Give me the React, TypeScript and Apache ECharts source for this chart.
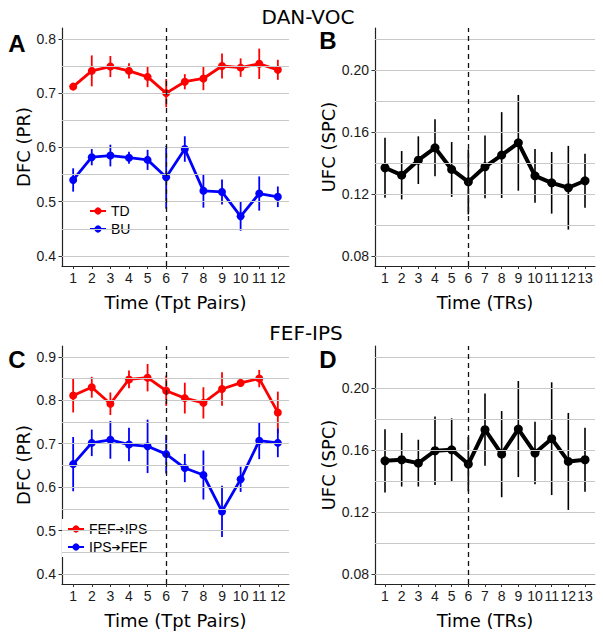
import React, { useEffect, useRef } from "react";
import * as echarts from "echarts";

// ---------- data ----------
const tptPairs = [1, 2, 3, 4, 5, 6, 7, 8, 9, 10, 11, 12];
const trs = [1, 2, 3, 4, 5, 6, 7, 8, 9, 10, 11, 12, 13];

// Panel A: DAN-VOC DFC
const tdMean = [0.712, 0.741, 0.749, 0.741, 0.730, 0.700, 0.721, 0.727, 0.750, 0.747, 0.754, 0.743];
const tdErr = [0.006, 0.0285, 0.0195, 0.014, 0.019, 0.026, 0.014, 0.0215, 0.023, 0.017, 0.028, 0.0185];
const buMean = [0.540, 0.582, 0.585, 0.581, 0.577, 0.545, 0.597, 0.520, 0.518, 0.473, 0.515, 0.509];
const buErr = [0.0215, 0.015, 0.020, 0.011, 0.0185, 0.058, 0.0235, 0.031, 0.023, 0.0265, 0.0315, 0.019];

// Panel B: DAN-VOC UFC
const ufcDanMean = [0.1369, 0.1321, 0.1418, 0.1498, 0.1358, 0.1278, 0.1375, 0.1451, 0.153, 0.1317, 0.1272, 0.124, 0.1285];
const ufcDanErr = [0.0194, 0.0156, 0.0154, 0.0184, 0.0177, 0.021, 0.0202, 0.0277, 0.0309, 0.0173, 0.0199, 0.027, 0.0174];

// Panel C: FEF-IPS DFC
const fefIpsMean = [0.811, 0.830, 0.792, 0.848, 0.852, 0.822, 0.805, 0.794, 0.826, 0.840, 0.850, 0.772];
const fefIpsErr = [0.039, 0.024, 0.026, 0.0205, 0.0315, 0.035, 0.0355, 0.036, 0.0385, 0.008, 0.02, 0.048];
const ipsFefMean = [0.653, 0.702, 0.709, 0.698, 0.694, 0.676, 0.644, 0.628, 0.544, 0.618, 0.707, 0.702];
const ipsFefErr = [0.0625, 0.0305, 0.0435, 0.0385, 0.0615, 0.0445, 0.0325, 0.0565, 0.059, 0.029, 0.0425, 0.033];

// Panel D: FEF-IPS UFC
const ufcFefMean = [0.153, 0.1537, 0.1515, 0.1595, 0.1601, 0.1509, 0.1731, 0.1573, 0.1735, 0.158, 0.1673, 0.1526, 0.1537];
const ufcFefErr = [0.0204, 0.0173, 0.0151, 0.0221, 0.0203, 0.0176, 0.0233, 0.0278, 0.031, 0.0202, 0.0364, 0.0313, 0.0207];

// ticks & gridlines
const dfcTicksA = [0.4, 0.5, 0.6, 0.7, 0.8];
const dfcGridA = [0.4, 0.45, 0.5, 0.55, 0.6, 0.65, 0.7, 0.75, 0.8];
const dfcTicksC = [0.4, 0.5, 0.6, 0.7, 0.8, 0.9];
const dfcGridC = [0.4, 0.45, 0.5, 0.55, 0.6, 0.65, 0.7, 0.75, 0.8, 0.85, 0.9];
const ufcTicks = [0.08, 0.12, 0.16, 0.2];
const ufcGrid = [0.08, 0.1, 0.12, 0.14, 0.16, 0.18, 0.2, 0.22];
const onsetX = 6;

const TICK_FONT = "'Liberation Sans', Arial, sans-serif";
const TITLE_FONT = "'DejaVu Sans', sans-serif";

function pairs(xs: number[], ys: number[]) {
  return xs.map((x, i) => [x, ys[i]]);
}
function errData(xs: number[], m: number[], e: number[]) {
  return xs.map((x, i) => [x, m[i] - e[i], m[i] + e[i]]);
}

export default function App() {
  const ref = useRef<HTMLDivElement>(null);
  useEffect(() => {
    document.body.style.margin = "0";
    const chart = echarts.init(ref.current!, undefined, { renderer: "svg" });

    const grids = [
      { left: 62, top: 28, width: 227, height: 238 },
      { left: 375, top: 28, width: 220, height: 238 },
      { left: 62, top: 346, width: 227, height: 238 },
      { left: 375, top: 346, width: 220, height: 238 },
    ];

    const mkX = (gi: number, ticks: number[], max: number, name: string) => ({
      type: "value",
      gridIndex: gi,
      min: 0.4,
      max,
      name,
      nameLocation: "middle",
      nameGap: 27,
      nameTextStyle: { fontFamily: TITLE_FONT, fontSize: 18, color: "#000" },
      axisLine: { show: true, onZero: false, lineStyle: { color: "#222", width: 1.2 } },
      axisTick: { show: true, length: 3, customValues: ticks, lineStyle: { color: "#333" } },
      axisLabel: {
        customValues: ticks,
        margin: 5,
        fontFamily: TICK_FONT,
        fontSize: 14,
        color: "#1a1a1a",
        formatter: (v: number) => String(v),
      },
      splitLine: { show: false },
    });

    const mkY = (gi: number, min: number, max: number, ticks: number[], digits: number, name: string, gap: number) => ({
      type: "value",
      gridIndex: gi,
      min,
      max,
      name,
      nameLocation: "middle",
      nameGap: gap,
      nameTextStyle: { fontFamily: TITLE_FONT, fontSize: 18, color: "#000" },
      axisLine: { show: true, onZero: false, lineStyle: { color: "#222", width: 1.2 } },
      axisTick: { show: true, length: 3.5, customValues: ticks, lineStyle: { color: "#333" } },
      axisLabel: {
        customValues: ticks,
        margin: 6,
        fontFamily: TICK_FONT,
        fontSize: 14,
        color: "#1a1a1a",
        formatter: (v: number) => v.toFixed(digits),
      },
      splitLine: { show: false },
    });

    const gridSeries = (gi: number, lines: number[]) => ({
      type: "line",
      xAxisIndex: gi,
      yAxisIndex: gi,
      data: [],
      silent: true,
      markLine: {
        silent: true,
        symbol: "none",
        label: { show: false },
        lineStyle: { color: "#c8c8c8", width: 1, type: "solid" },
        data: lines.map((v) => ({ yAxis: v })),
      },
    });

    const dashSeries = (gi: number) => ({
      type: "line",
      xAxisIndex: gi,
      yAxisIndex: gi,
      data: [],
      silent: true,
      markLine: {
        silent: true,
        symbol: "none",
        label: { show: false },
        lineStyle: { color: "#111", width: 1.3, type: [5, 4] },
        data: [{ xAxis: onsetX }],
      },
    });

    const errSeries = (gi: number, xs: number[], m: number[], e: number[], color: string, w: number) => ({
      type: "custom",
      xAxisIndex: gi,
      yAxisIndex: gi,
      silent: true,
      data: errData(xs, m, e),
      encode: { x: 0, y: [1, 2] },
      renderItem: (_p: any, api: any) => {
        const x = api.value(0);
        const a = api.coord([x, api.value(1)]);
        const b = api.coord([x, api.value(2)]);
        return {
          type: "line",
          shape: { x1: a[0], y1: a[1], x2: b[0], y2: b[1] },
          style: { stroke: color, lineWidth: w },
        };
      },
    });

    const lineSeries = (gi: number, name: string, xs: number[], m: number[], color: string, w: number, sym: number) => ({
      type: "line",
      name,
      xAxisIndex: gi,
      yAxisIndex: gi,
      data: pairs(xs, m),
      symbol: "circle",
      symbolSize: sym,
      showSymbol: true,
      lineStyle: { color, width: w },
      itemStyle: { color },
      z: 3,
    });

    const legendBase = {
      orient: "vertical",
      itemWidth: 16,
      itemHeight: 9,
      itemGap: 4,
      padding: [3, 5],
      backgroundColor: "#fff",
      formatter: (name: string) => name.replace("→", "{ar|➔}"),
      textStyle: {
        fontFamily: TICK_FONT,
        fontSize: 14,
        color: "#000",
        lineHeight: 14,
        rich: { ar: { fontFamily: TITLE_FONT, fontSize: 11, color: "#000", lineHeight: 14 } },
      },
    };

    const option: any = {
      animation: false,
      backgroundColor: "#fff",
      grid: grids,
      xAxis: [
        mkX(0, tptPairs, 12.6, "Time (Tpt Pairs)"),
        mkX(1, trs, 13.6, "Time (TRs)"),
        mkX(2, tptPairs, 12.6, "Time (Tpt Pairs)"),
        mkX(3, trs, 13.6, "Time (TRs)"),
      ],
      yAxis: [
        mkY(0, 0.3815, 0.82, dfcTicksA, 1, "DFC (PR)", 30),
        mkY(1, 0.0735, 0.2271, ufcTicks, 2, "UFC (SPC)", 37),
        mkY(2, 0.377, 0.925, dfcTicksC, 1, "DFC (PR)", 30),
        mkY(3, 0.0735, 0.2271, ufcTicks, 2, "UFC (SPC)", 37),
      ],
      legend: [
        { ...legendBase, left: 84, top: 201, data: ["TD", "BU"] },
        { ...legendBase, left: 62, top: 519, data: ["FEF→IPS", "IPS→FEF"] },
      ],
      series: [
        gridSeries(0, dfcGridA),
        gridSeries(1, ufcGrid),
        gridSeries(2, dfcGridC),
        gridSeries(3, ufcGrid),
        errSeries(0, tptPairs, tdMean, tdErr, "#ff0000", 1.8),
        errSeries(0, tptPairs, buMean, buErr, "#0000ff", 1.8),
        errSeries(1, trs, ufcDanMean, ufcDanErr, "#000", 1.6),
        errSeries(2, tptPairs, fefIpsMean, fefIpsErr, "#ff0000", 1.8),
        errSeries(2, tptPairs, ipsFefMean, ipsFefErr, "#0000ff", 1.8),
        errSeries(3, trs, ufcFefMean, ufcFefErr, "#000", 1.6),
        dashSeries(0),
        dashSeries(1),
        dashSeries(2),
        dashSeries(3),
        lineSeries(0, "TD", tptPairs, tdMean, "#ff0000", 2.8, 8),
        lineSeries(0, "BU", tptPairs, buMean, "#0000ff", 2.8, 8),
        lineSeries(1, "UFC DAN-VOC", trs, ufcDanMean, "#000", 4, 9),
        lineSeries(2, "FEF→IPS", tptPairs, fefIpsMean, "#ff0000", 2.8, 8),
        lineSeries(2, "IPS→FEF", tptPairs, ipsFefMean, "#0000ff", 2.8, 8),
        lineSeries(3, "UFC FEF-IPS", trs, ufcFefMean, "#000", 4, 9),
      ],
      graphic: [
        {
          type: "text",
          x: 308,
          y: 17,
          style: { text: "DAN-VOC", fontFamily: TITLE_FONT, fontSize: 20, fill: "#000", align: "center", verticalAlign: "middle" },
        },
        {
          type: "text",
          x: 306,
          y: 333,
          style: { text: "FEF-IPS", fontFamily: TITLE_FONT, fontSize: 20, fill: "#000", align: "center", verticalAlign: "middle" },
        },
        { type: "text", x: 17, y: 43, style: { text: "A", fontFamily: TICK_FONT, fontWeight: "bold", fontSize: 24, fill: "#000", align: "center", verticalAlign: "middle" } },
        { type: "text", x: 328, y: 40, style: { text: "B", fontFamily: TICK_FONT, fontWeight: "bold", fontSize: 24, fill: "#000", align: "center", verticalAlign: "middle" } },
        { type: "text", x: 17, y: 359, style: { text: "C", fontFamily: TICK_FONT, fontWeight: "bold", fontSize: 24, fill: "#000", align: "center", verticalAlign: "middle" } },
        { type: "text", x: 328, y: 359, style: { text: "D", fontFamily: TICK_FONT, fontWeight: "bold", fontSize: 24, fill: "#000", align: "center", verticalAlign: "middle" } },
      ],
    };

    chart.setOption(option);
    return () => chart.dispose();
  }, []);

  return <div ref={ref} style={{ position: "fixed", left: 0, top: 0, width: 603, height: 638 }} />;
}
